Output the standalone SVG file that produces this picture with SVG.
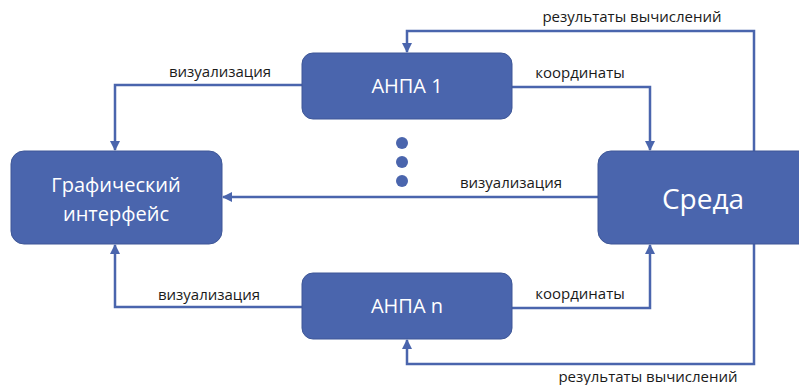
<svg xmlns="http://www.w3.org/2000/svg" width="799" height="385" viewBox="0 0 799 385">
<style>
.box{fill:#4A65AD;stroke:#3E5797;stroke-width:1}
.bt{fill:#fff;font-family:"Open Sans","Liberation Sans",sans-serif;text-anchor:middle}
.ln{fill:none;stroke:#4A65AD;stroke-width:2.5}
.lb{fill:#1a1a1a;font-family:"Open Sans","Liberation Sans",sans-serif;font-size:15px;text-anchor:middle}
</style>
<defs>
<marker id="ar" viewBox="0 0 10 10" refX="9" refY="5" markerWidth="4" markerHeight="4" orient="auto" markerUnits="strokeWidth">
<path d="M0,0 L10,5 L0,10 z" fill="#4A65AD"/>
</marker>
</defs>
<g id="connectors">
<path class="ln" d="M754,151 V31 H407 V52" marker-end="url(#ar)"/>
<path class="ln" d="M754,244 V364 H407 V340" marker-end="url(#ar)"/>
<path class="ln" d="M512,87 H650 V150" marker-end="url(#ar)"/>
<path class="ln" d="M512,308 H650 V245" marker-end="url(#ar)"/>
<path class="ln" d="M302,85 H115 V150" marker-end="url(#ar)"/>
<path class="ln" d="M302,307 H115 V245" marker-end="url(#ar)"/>
<path class="ln" d="M598,197 H223" marker-end="url(#ar)"/>
<text class="lb" x="632" y="22">результаты вычислений</text>
<text class="lb" x="648" y="382">результаты вычислений</text>
<text class="lb" x="580" y="78">координаты</text>
<text class="lb" x="580" y="299">координаты</text>
<text class="lb" x="220" y="77">визуализация</text>
<text class="lb" x="209" y="300">визуализация</text>
<text class="lb" x="511" y="188">визуализация</text>
</g>
<g id="dots" fill="#4A65AD">
<circle cx="402" cy="143" r="6"/>
<circle cx="402" cy="162" r="6"/>
<circle cx="402" cy="181" r="6"/>
</g>
<g id="anpa1">
<rect class="box" x="302" y="53" width="210" height="66" rx="11"/>
<text class="bt" x="407" y="93" font-size="20">АНПА 1</text>
</g>
<g id="anpan">
<rect class="box" x="302" y="273" width="210" height="66" rx="11"/>
<text class="bt" x="407" y="313" font-size="20">АНПА n</text>
</g>
<g id="gui">
<rect class="box" x="11" y="151" width="211" height="93" rx="13"/>
<text class="bt" x="116" y="192" font-size="20">Графический</text>
<text class="bt" x="116" y="221" font-size="20">интерфейс</text>
</g>
<g id="sreda">
<rect class="box" x="598" y="151" width="215" height="93" rx="13"/>
<text class="bt" x="703" y="209" font-size="28">Среда</text>
</g>
</svg>
